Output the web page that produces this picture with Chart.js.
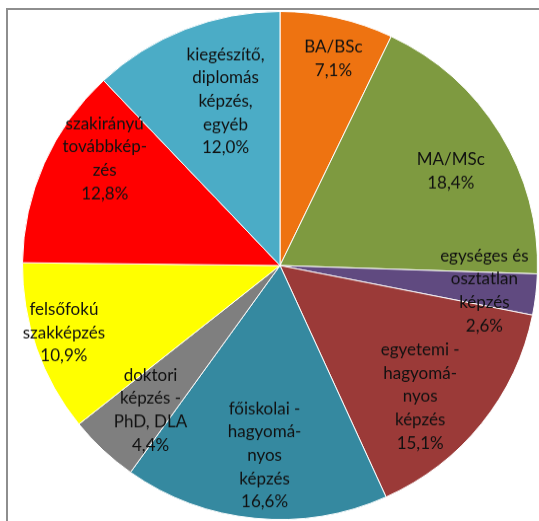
<!DOCTYPE html>
<html>
<head>
<meta charset="utf-8">
<script src="https://cdn.jsdelivr.net/npm/chart.js@4.4.1/dist/chart.umd.min.js"></script>
<style>
  html, body { margin: 0; padding: 0; background: #fff; overflow: hidden; width: 539px; height: 521px; }
  #frame { position: absolute; left: 6px; top: 8px; width: 600px; height: 600px;
           border-left: 2px solid #8e8e8e; border-top: 2px solid #8e8e8e; }
  #wrap { position: absolute; left: 22px; top: 11px; width: 516px; height: 516px;
          transform: scaleY(0.9864); transform-origin: 0 0; }
</style>
</head>
<body>
<div id="frame"></div>
<div id="wrap"><canvas id="myChart" width="516" height="516"></canvas></div>
<script>
// slices, clockwise from 12 o'clock
var categories = [
  ["BA/BSc"],
  ["MA/MSc"],
  ["egységes és", "osztatlan", "képzés"],
  ["egyetemi -", "hagyomá-", "nyos", "képzés"],
  ["főiskolai -", "hagyomá-", "nyos", "képzés"],
  ["doktori", "képzés -", "PhD, DLA"],
  ["felsőfokú", "szakképzés"],
  ["szakirányú", "továbbkép-", "zés"],
  ["kiegészítő,", "diplomás", "képzés,", "egyéb"],
];
var shares = [7.1, 18.4, 2.6, 15.1, 16.6, 4.4, 10.9, 12.8, 12.0];
var colors = ["#ee7311", "#7e9a40", "#604a80", "#9b3a38", "#3589a0",
              "#7f7f7f", "#ffff00", "#ff0000", "#4bacc6"];

// label placement: [angle shift in degrees, fraction of radius]
var labelPos = [[1.5, 0.84], [2, 0.76], [0.6, 0.8], [5, 0.75], [-1, 0.75],
                [-2, 0.76], [1.5, 0.88], [8, 0.8], [3.5, 0.68]];

function pct(v) {
  return v.toFixed(1).replace(".", ",") + "%";
}

var sliceLabels = {
  id: "sliceLabels",
  afterDatasetsDraw: function (chart) {
    var ctx = chart.ctx;
    var arcs = chart.getDatasetMeta(0).data;
    ctx.save();
    ctx.font = "17px Lato";
    ctx.fillStyle = "#111";
    ctx.textAlign = "center";
    ctx.textBaseline = "middle";
    var lh = 23.7;
    arcs.forEach(function (arc, i) {
      var p = arc.getProps(["x", "y", "startAngle", "endAngle", "outerRadius"], true);
      var a = (p.startAngle + p.endAngle) / 2 + labelPos[i][0] * Math.PI / 180;
      var r = p.outerRadius * labelPos[i][1];
      var cx = p.x + Math.cos(a) * r;
      var cy = p.y + Math.sin(a) * r;
      var lines = categories[i].concat([pct(shares[i])]);
      var y0 = cy - (lines.length - 1) * lh / 2;
      lines.forEach(function (t, k) {
        ctx.fillText(t, cx, y0 + k * lh);
      });
    });
    ctx.restore();
  },
};

new Chart("myChart", {
  type: "pie",
  data: {
    labels: categories.map(function (c) { return c.join(" "); }),
    datasets: [
      {
        data: shares,
        backgroundColor: colors,
        borderColor: "#ffffff",
        borderWidth: 1,
      },
    ],
  },
  options: {
    responsive: false,
    animation: false,
    layout: { padding: 0 },
    plugins: {
      legend: { display: false },
      tooltip: { enabled: false },
    },
  },
  plugins: [sliceLabels],
});
</script>
</body>
</html>
